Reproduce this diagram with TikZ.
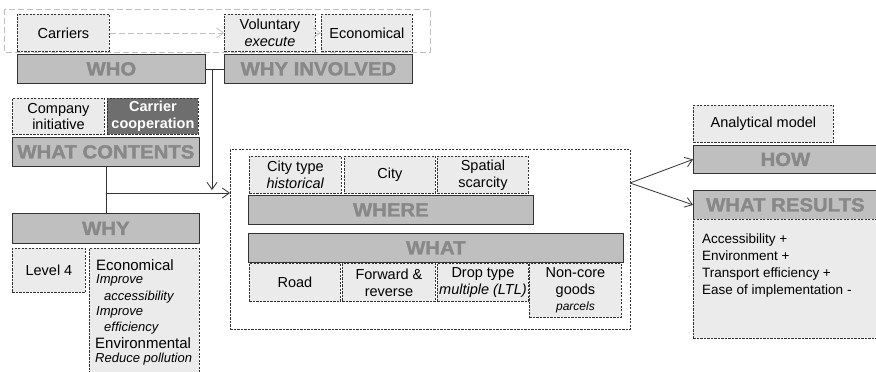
\documentclass[tikz,border=0pt]{standalone}
\usepackage{fontspec}
\setmainfont{Liberation Sans}
\newfontfamily\hdfont[FakeStretch=1.07, BoldFeatures={FakeBold=1.6}]{Liberation Sans}
\usetikzlibrary{arrows.meta}
\definecolor{hdrfill}{HTML}{BFBFBF}
\definecolor{hdrtext}{HTML}{888888}
\definecolor{cellfill}{HTML}{EBEBEB}
\definecolor{darkfill}{HTML}{6E6E6E}
\definecolor{edge}{HTML}{333333}
\newcommand\hdsize{\fontsize{19}{21}\selectfont\hdfont\bfseries}
\newcommand\txsize{\fontsize{14.5}{16.8}\selectfont}
\newcommand\bigtx{\fontsize{15}{17}\selectfont}
\newcommand\smit{\fontsize{13}{15}\selectfont\itshape}

\tikzset{
  hdr/.style={draw=edge, line width=0.8pt, fill=hdrfill, text=hdrtext, font=\hdsize,
    anchor=north west, inner sep=0pt},
  cell/.style={draw=edge, line width=0.9pt, dash pattern=on 2.2pt off 1.3pt, fill=cellfill,
    font=\txsize, align=center, anchor=north west, inner sep=0pt},
  celldark/.style={cell, fill=darkfill, text=white, font=\txsize\bfseries},
  frame/.style={cell, fill=none},
  outer/.style={draw=black!25, line width=0.7pt, dash pattern=on 6pt off 3pt},
  conn/.style={draw=edge, line width=0.8pt},
  faint/.style={draw=black!25, line width=0.7pt, dash pattern=on 6pt off 3pt}
}

\begin{document}
\begin{tikzpicture}[x=1pt,y=-1pt,>={Straight Barb[length=7pt,width=10pt]}]
\useasboundingbox (0,0) rectangle (876,372);
\clip (0,0) rectangle (876,372);

%who / why involved
\draw[outer] (4,9) rectangle (430,52);
\node[cell, minimum width=92, minimum height=37] (carriers) at (17,14) {Carriers};
\node[cell, minimum width=91, minimum height=37] (vol) at (224,14) {Voluntary\\\textit{execute}};
\node[cell, minimum width=91, minimum height=37] (econ) at (321,14) {Economical};
\node[hdr, minimum width=188, minimum height=29] (who) at (17,54) {WHO};
\node[hdr, minimum width=188, minimum height=29] (whyinv) at (224,54) {WHY INVOLVED};
\draw[faint,->] (carriers) -- (vol);
\draw[faint,->] (vol) -- (econ);

%what contents / why
\node[cell, minimum width=92, minimum height=36] (comp) at (12,98) {Company\\initiative};
\node[celldark, minimum width=91, minimum height=36] (carco) at (107,98) {Carrier\\cooperation};
\node[hdr, minimum width=187, minimum height=29] (wc) at (12,137) {WHAT CONTENTS};
\node[hdr, minimum width=187, minimum height=30] (why) at (12,213) {WHY};
\node[cell, minimum width=73, minimum height=44] (lvl) at (12,248) {Level 4};
\node[cell, minimum width=110, minimum height=140] (ecobox) at (89,248) {};
\foreach \yy/\xx/\txt [count=\i] in {265/96/{\bigtx Economical},
    280/96/{\smit Improve}, 297/104/{\smit accessibility},
    312/96/{\smit Improve}, 328/104/{\smit efficiency},
    343/95/{\bigtx Environmental}, 359/95/{\smit Reduce pollution}}
{
  \node[anchor=west, inner sep=0pt] (ecoline\i) at (\xx,\yy) {\txt};
}

%where / what
\node[frame, minimum width=400, minimum height=180] (cont) at (230,149) {};
\node[cell, minimum width=92, minimum height=37] (ctype) at (249,156) {City type\\\textit{historical}};
\node[cell, minimum width=91, minimum height=37] (city) at (344,156) {City};
\node[cell, minimum width=91, minimum height=37] (spat) at (437,156) {Spatial\\scarcity};
\node[hdr, minimum width=285, minimum height=29] (where) at (248,195) {WHERE};
\node[hdr, minimum width=375, minimum height=29] (what) at (248,233) {WHAT};
\node[cell, minimum width=91, minimum height=38] (road) at (249,263) {Road};
\node[cell, minimum width=93, minimum height=38] (fwd) at (342,263) {Forward \&\\reverse};
\node[cell, minimum width=91, minimum height=38] (drop) at (437,263) {Drop type\\\textit{multiple (LTL)}};
\node[cell, minimum width=92, minimum height=54] (ncore) at (529,263)
  {Non-core\\goods\\{\fontsize{12}{14}\selectfont\itshape parcels}};

%how / what results
\node[cell, minimum width=140, minimum height=37] (anal) at (693,105) {Analytical model};
\node[hdr, minimum width=184, minimum height=28] (how) at (693,145) {HOW};
\node[hdr, minimum width=184, minimum height=29] (res) at (693,190) {WHAT RESULTS};
\node[cell, minimum width=190, minimum height=119] (resbox) at (693,219) {};
\node[anchor=north west, align=left, inner sep=0pt, font=\fontsize{13.5}{16.8}\selectfont]
  (restxt) at (702,234)
  {Accessibility +\\Environment +\\Transport efficiency +\\Ease of implementation -};

%connectors
\draw[conn] (who) -- (whyinv);
\coordinate (j1) at (212,68.5);
\coordinate (j1end) at (212,190);
\draw[conn,->] (j1) -- (j1end);
\draw[conn] (wc) -- (why);
\coordinate (j2) at (105.5,193);
\draw[conn,->] (j2) -- (j2 -| cont.west);
\coordinate (fork) at (630,183);
\draw[conn,->] (fork) -- (how.west);
\draw[conn,->] (fork) -- (res.west);
\end{tikzpicture}
\end{document}
